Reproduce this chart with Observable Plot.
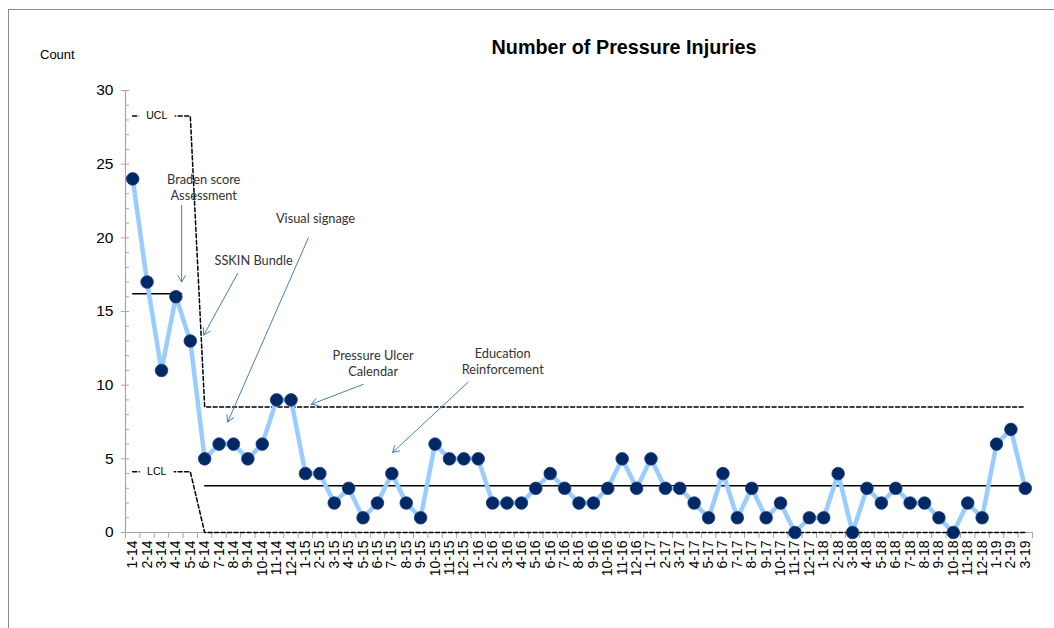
<!DOCTYPE html>
<html>
<head>
<meta charset="utf-8">
<script src="https://cdn.jsdelivr.net/npm/d3@7"></script>
<script src="https://cdn.jsdelivr.net/npm/@observablehq/plot@0.6"></script>
<style>
  html, body { margin: 0; padding: 0; background: #fff; }
  #wrap { position: relative; width: 1054px; height: 628px; overflow: hidden; font-family: "Liberation Sans", Arial, sans-serif; }
  #frame { position: absolute; left: 8px; top: 9px; width: 1060px; height: 640px; border-left: 1.5px solid #8c8c8c; border-top: 1.5px solid #8c8c8c; box-sizing: border-box; }
  #title { position: absolute; left: 0; width: 1248px; top: 36px; text-align: center; font-weight: bold; font-size: 19.8px; color: #000; }
  #ylab { position: absolute; left: 40px; top: 47px; font-size: 13px; color: #000; }
  svg { position: absolute; left: 0; top: 0; }
</style>
</head>
<body>
<div id="wrap">
  <div id="frame"></div>
  <div id="title">Number of Pressure Injuries</div>
  <div id="ylab">Count</div>
</div>
<script>
// Month labels (x categories)
const months = ["1-14","2-14","3-14","4-14","5-14","6-14","7-14","8-14","9-14","10-14","11-14","12-14",
  "1-15","2-15","3-15","4-15","5-15","6-15","7-15","8-15","9-15","10-15","11-15","12-15",
  "1-16","2-16","3-16","4-16","5-16","6-16","7-16","8-16","9-16","10-16","11-16","12-16",
  "1-17","2-17","3-17","4-17","5-17","6-17","7-17","8-17","9-17","10-17","11-17","12-17",
  "1-18","2-18","3-18","4-18","5-18","6-18","7-18","8-18","9-18","10-18","11-18","12-18",
  "1-19","2-19","3-19"];

// Counts of pressure injuries per month
const counts = [24,17,11,16,13,5,6,6,5,6,9,9,
  4,4,2,3,1,2,4,2,1,6,5,5,
  5,2,2,2,3,4,3,2,2,3,5,3,
  5,3,3,2,1,4,1,3,1,2,0,1,
  1,4,0,3,2,3,2,2,1,0,2,1,
  6,7,3];

// Phase boundaries (index of first/last month of each phase) and limits
const phaseStart = [0, 5];
const phaseEnd = [4, 62];
const centerLine = [16.2, 3.17];
const upperLimit = [28.27, 8.51];
const lowerLimit = [4.13, 0];
// end of the drawn centre line of each phase
const centerLineEnd = [3.4, 62];

const yTicks = [0, 5, 10, 15, 20, 25, 30];

// Annotations: text, position and arrow (in month-index / count units)
const annText = ["Braden score\nAssessment", "SSKIN Bundle", "Visual signage", "Pressure Ulcer\nCalendar", "Education\nReinforcement"];
const annX = [4.93, 8.4, 12.7, 16.7, 25.7];
const annY = [24.4, 18.9, 21.8, 12.5, 12.6];
const arrowX1 = [3.4, 7.3, 12.2, 16.0, 23.3];
const arrowY1 = [22.2, 17.6, 20.0, 10.05, 10.2];
const arrowX2 = [3.4, 4.93, 6.6, 12.4, 18.05];
const arrowY2 = [17.0, 13.4, 7.5, 8.7, 5.43];

const pts = counts.map((c, i) => ({i, c}));

// limit step-lines: constant over each phase, connected across phase change
const limitLine = (vals) => {
  const out = [];
  phaseStart.forEach((s, p) => {
    for (let i = s; i <= phaseEnd[p]; i++) out.push({i, v: vals[p]});
  });
  return out;
};
const ucl = limitLine(upperLimit);
const lcl = limitLine(lowerLimit);
const cls = phaseStart.map((s, p) => [{i: s, v: centerLine[p], p}, {i: centerLineEnd[p], v: centerLine[p], p}]).flat();

const ann = annText.map((t, k) => ({t, x: annX[k], y: annY[k], x1: arrowX1[k], y1: arrowY1[k], x2: arrowX2[k], y2: arrowY2[k]}));

const chart = Plot.plot({
  width: 1054,
  height: 628,
  marginLeft: 125,
  marginRight: 22,
  marginTop: 90,
  marginBottom: 96,
  style: {fontFamily: "'Liberation Sans', Arial, sans-serif", background: "transparent", overflow: "visible"},
  x: {type: "linear", domain: [-0.5, 62.5]},
  y: {type: "linear", domain: [0, 30]},
  marks: [
    // minor y ticks
    Plot.axisY({ticks: d3.range(0, 31), tickSize: -4, text: null, stroke: "#a6a6a6", strokeOpacity: 1, label: null}),
    // major y ticks with labels
    Plot.axisY({ticks: yTicks, tickSize: 4, tickPadding: 8, fontSize: 15.5, stroke: "#a6a6a6", strokeOpacity: 1, color: "#000", label: null, tickFormat: d => d}),
    // x category boundary ticks
    Plot.axisX({ticks: d3.range(0, 64).map(k => k - 0.5), tickSize: 6, text: null, stroke: "#a6a6a6", strokeOpacity: 1, label: null}),
    // x labels
    Plot.axisX({ticks: d3.range(0, 63), tickSize: 0, tickPadding: 8, tickRotate: -90, fontSize: 14, color: "#000", label: null, tickFormat: i => months[i]}),
    Plot.ruleX([-0.5], {stroke: "#a6a6a6", strokeWidth: 1.2}),
    Plot.ruleY([0], {stroke: "#a6a6a6", strokeWidth: 1.2}),
    // control limits
    Plot.line(ucl, {x: "i", y: "v", stroke: "#000", strokeWidth: 1.5, strokeDasharray: "4,2.5"}),
    Plot.line(lcl, {x: "i", y: "v", stroke: "#000", strokeWidth: 1.5, strokeDasharray: "4,2.5"}),
    Plot.text(["UCL"], {x: 1.67, y: upperLimit[0], text: d => d, fontSize: 10.5, fill: "#000", stroke: "#fff", strokeWidth: 16}),
    Plot.text(["LCL"], {x: 1.67, y: lowerLimit[0], text: d => d, fontSize: 10.5, fill: "#000", stroke: "#fff", strokeWidth: 16}),
    // centre lines
    Plot.line(cls, {x: "i", y: "v", z: "p", stroke: "#000", strokeWidth: 1.5}),
    // data
    Plot.line(pts, {x: "i", y: "c", stroke: "#99ccff", strokeWidth: 4.5}),
    Plot.dot(pts, {x: "i", y: "c", r: 6.3, fill: "#002865", stroke: "#1a3f85", strokeWidth: 0.8}),
    // annotations
    Plot.arrow(ann, {x1: "x1", y1: "y1", x2: "x2", y2: "y2", stroke: "#4a7ebb", strokeWidth: 1, headLength: 11, bend: 0}),
    Plot.text(ann, {x: "x", y: "y", text: "t", fontSize: 12.8, fontFamily: "Lato, 'Noto Sans', sans-serif", fill: "#333", lineHeight: 1.25, lineAnchor: "top"})
  ]
});
document.getElementById("wrap").appendChild(chart);
</script>
</body>
</html>
